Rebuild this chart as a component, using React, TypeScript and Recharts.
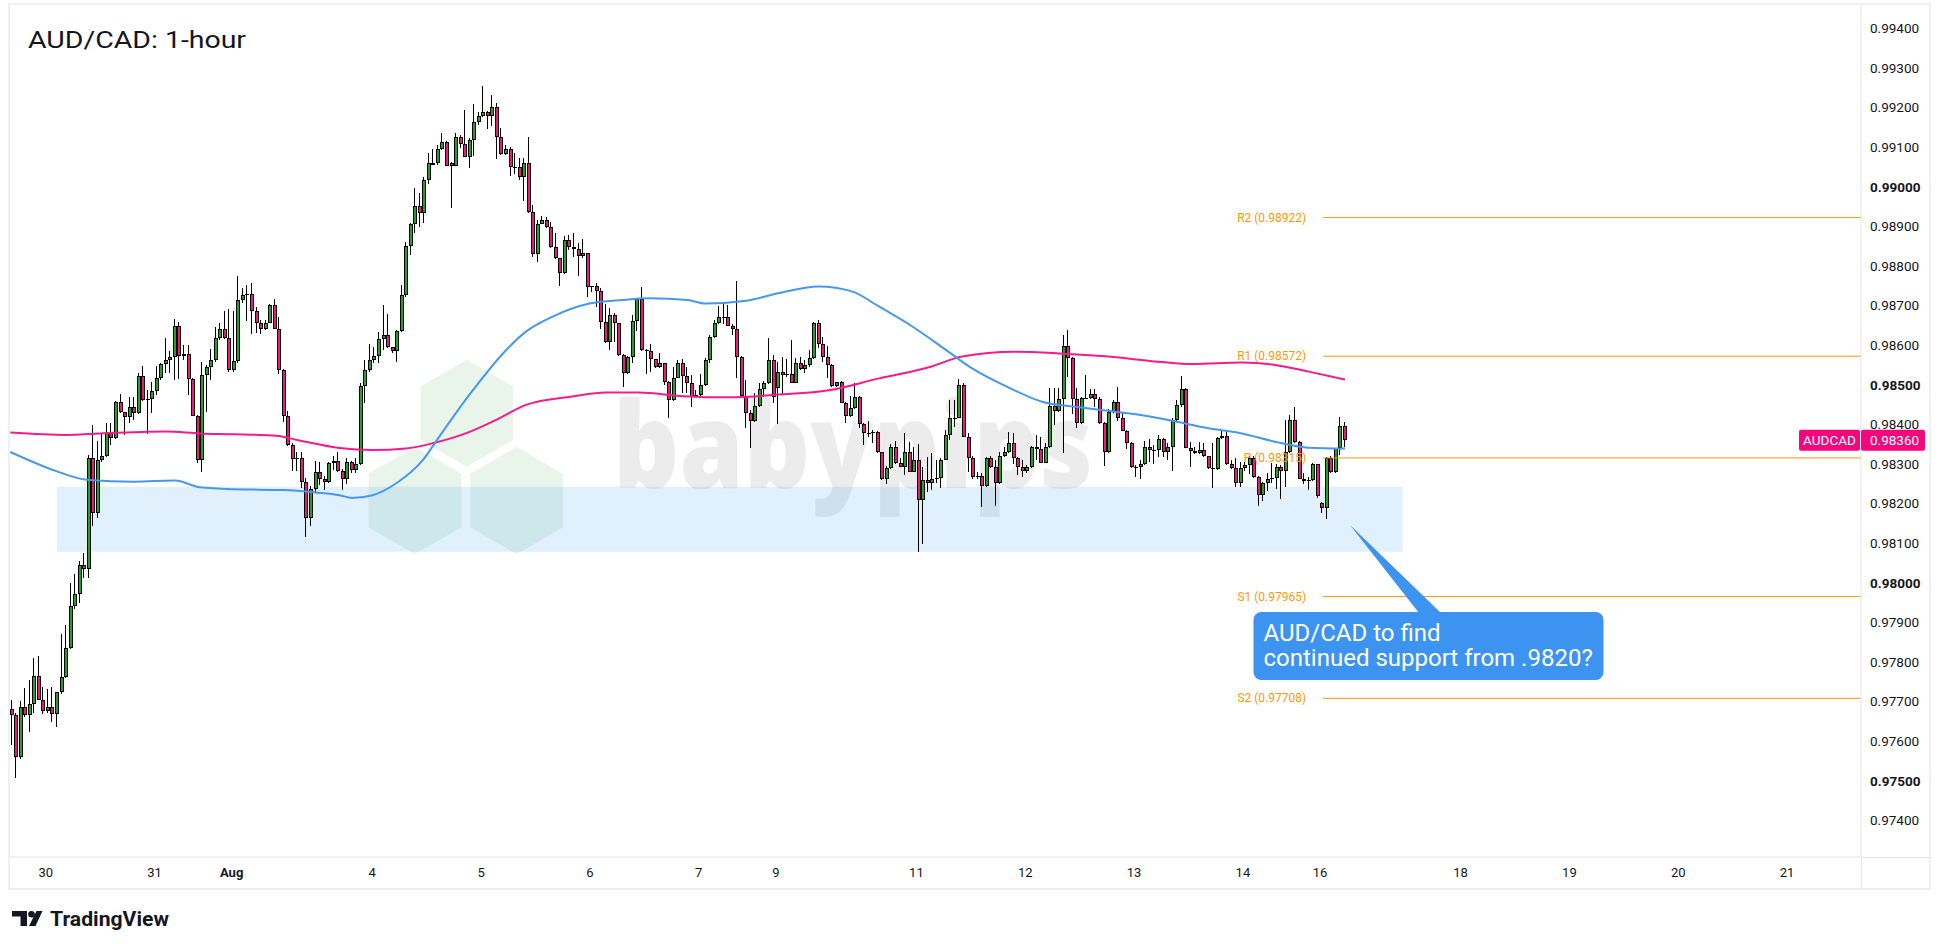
import React from "react";
import {
  ComposedChart,
  Bar,
  Line,
  XAxis,
  YAxis,
  ReferenceLine,
  ReferenceArea,
  ReferenceDot
} from "recharts";

const FONT = "Roboto, 'Noto Sans', Arial, sans-serif";
const INK = "#131722";
const GRID = "#e0e3eb";
const UP = "#22a322";
const DOWN = "#eb1a7d";
const BLUE = "#4598f0";
const PINK = "#f61b8b";
const ORANGE = "#ff9800";
const CALLOUT = "#3d93f0";

// hourly candles, prices in points (1e-5): [open, high, low, close]
const JUL30_AUG1 = [
  [97680,97704,97590,97666],[97666,97670,97506,97561],[97561,97700,97555,97685],[97685,97733,97660,97666],[97666,97754,97624,97693],
  [97693,97811,97670,97765],[97765,97815,97703,97705],[97705,97737,97668,97676],[97676,97731,97670,97685],[97685,97737,97647,97668],
  [97668,97725,97635,97723],[97723,97870,97720,97763],[97763,97893,97760,97836],[97836,97999,97833,97940],[97940,98022,97934,97971],
  [97971,98055,97948,98045],[98045,98074,98011,98035],[98035,98322,98011,98316],[98316,98397,98142,98175],[98175,98359,98163,98310],
  [98310,98377,98306,98321],[98321,98404,98318,98377],[98377,98404,98348,98366],[98366,98458,98364,98456],[98456,98476,98428,98430],
  [98430,98432,98372,98418],[98418,98468,98403,98443],[98443,98468,98411,98428],[98428,98529,98426,98522],[98522,98546,98460,98462],
  [98462,98487,98376,98463],[98463,98508,98428,98485],[98485,98546,98473,98516],[98516,98555,98512,98553],[98553,98617,98529,98563],
  [98563,98584,98529,98569],[98569,98665,98512,98647],[98647,98658,98514,98573],[98573,98601,98563,98578],[98578,98601,98473,98515],
  [98515,98517,98420,98422],[98422,98424,98303,98310],[98310,98558,98279,98525],[98525,98550,98432,98544],[98544,98590,98512,98563],
  [98563,98645,98558,98617],[98617,98655,98613,98641],[98641,98685,98615,98617],[98617,98691,98533,98536],[98536,98685,98533,98559],
  [98559,98775,98555,98714],[98714,98744,98706,98727],[98727,98752,98660,98729],[98729,98758,98627,98687],[98687,98696,98630,98657],
  [98657,98664,98627,98641],[98641,98664,98638,98657],[98657,98704,98655,98702],[98702,98717,98640,98641],[98641,98670,98526,98537],
  [98537,98539,98405,98420],[98420,98434,98346,98348],[98348,98352,98281,98313],[98313,98331,98281,98316],[98316,98331,98238,98254],
  [98254,98264,98116,98163],[98163,98243,98143,98237],[98237,98308,98230,98279],[98279,98306,98247,98262],[98262,98270,98234,98254],
  [98254,98305,98251,98303],[98303,98321,98285,98308],[98308,98331,98279,98281],[98281,98288,98234,98261],[98261,98314,98249,98305],
  [98305,98308,98276,98284],[98284,98314,98276,98299],[98299,98505,98297,98496],[98496,98562,98454,98537],[98537,98604,98533,98562]
];

const AUG4_AUG8 = [
  [98562,98596,98555,98572],[98572,98634,98554,98615],[98615,98701,98587,98625],[98625,98678,98592,98594],[98594,98596,98581,98586],
  [98586,98638,98558,98635],[98635,98752,98633,98726],[98726,98861,98722,98850],[98850,98908,98827,98906],[98906,98996,98882,98950],
  [98950,98985,98899,98933],[98933,99025,98909,99017],[99017,99086,99008,99061],[99056,99095,99055,99061],[99061,99105,99056,99095],
  [99095,99136,99093,99113],[99113,99115,99051,99053],[99061,99063,98945,99053],[99053,99136,99051,99125],[99125,99131,99097,99109],
  [99109,99194,99074,99076],[99076,99122,99046,99118],[99118,99208,99077,99164],[99164,99189,99156,99178],[99178,99255,99177,99188],
  [99188,99190,99145,99178],[99178,99232,99153,99200],[99200,99211,99069,99126],[99126,99147,99080,99083],[99083,99105,99080,99095],
  [99095,99101,99027,99049],[99049,99084,99032,99050],[99050,99073,99017,99024],[99024,99072,98965,99061],[99061,99125,98933,98935],
  [98935,98954,98823,98829],[98829,98916,98811,98907],[98907,98926,98905,98917],[98917,98924,98895,98897],[98897,98912,98846,98848],
  [98848,98884,98817,98819],[98819,98821,98750,98781],[98781,98875,98779,98865],[98865,98878,98840,98848],[98848,98882,98823,98842],
  [98842,98857,98775,98826],[98826,98867,98819,98832],[98832,98833,98722,98746],[98746,98749,98735,98748],[98748,98756,98695,98737],
  [98737,98743,98640,98659],[98659,98705,98606,98607],[98607,98693,98587,98677],[98677,98680,98608,98655],[98655,98657,98572,98576],
  [98576,98578,98493,98530],[98530,98572,98528,98571],[98571,98676,98555,98661],[98661,98720,98636,98717],[98717,98747,98586,98587],
  [98587,98589,98527,98586],[98586,98603,98533,98564],[98564,98566,98541,98545],[98545,98581,98543,98554],[98554,98556,98499,98507],
  [98507,98509,98417,98461],[98461,98544,98459,98518],[98518,98562,98516,98554],[98554,98564,98480,98523],[98523,98545,98480,98505],
  [98505,98525,98443,98470],[98470,98487,98469,98474],[98474,98526,98468,98498],[98498,98567,98497,98562],[98562,98626,98556,98620],
  [98620,98663,98617,98655],[98655,98699,98653,98672],[98672,98705,98652,98671],[98671,98701,98647,98649],[98649,98652,98625,98641],
  [98641,98762,98516,98571],[98571,98572,98470,98471],[98471,98512,98391,98428],[98428,98436,98341,98409],[98409,98478,98407,98447],
  [98447,98503,98444,98488],[98488,98509,98470,98503],[98503,98617,98502,98562],[98562,98575,98455,98468],[98491,98558,98401,98531],
  [98531,98571,98474,98524],[98524,98564,98520,98526],[98526,98614,98503,98505],[98505,98567,98503,98556],[98556,98571,98537,98540],
  [98540,98562,98529,98550],[98550,98588,98545,98567],[98567,98659,98565,98657],[98657,98663,98592,98603],[98603,98620,98558,98571],
  [98571,98598,98516,98550],[98550,98551,98495,98497],[98497,98508,98493,98506],[98506,98510,98454,98455],[98455,98457,98402,98421],
  [98421,98471,98418,98440],[98440,98503,98438,98470],[98470,98472,98390,98400],[98400,98402,98348,98377],[98377,98409,98367,98378],
  [98378,98385,98352,98380],[98380,98383,98327,98329],[98329,98331,98259,98261],[98261,98295,98249,98289],[98289,98349,98286,98342],
  [98342,98358,98300,98301],[98301,98314,98291,98293],[98293,98379,98272,98331],[98331,98356,98279,98280],[98280,98343,98279,98311]
];

const AUG11_AUG15 = [
  [98311,98349,98077,98209],[98209,98293,98097,98259],[98259,98318,98230,98251],[98251,98327,98234,98263],[98263,98311,98251,98264],
  [98264,98316,98238,98311],[98311,98386,98310,98373],[98373,98461,98360,98415],[98415,98461,98394,98417],[98417,98514,98415,98499],
  [98499,98505,98367,98369],[98369,98377,98280,98314],[98314,98320,98263,98266],[98266,98280,98263,98269],[98269,98276,98190,98245],
  [98245,98318,98242,98316],[98316,98320,98289,98291],[98291,98310,98194,98251],[98251,98331,98249,98321],[98321,98343,98318,98329],
  [98329,98381,98327,98353],[98353,98377,98300,98314],[98314,98318,98272,98293],[98293,98311,98266,98283],[98283,98297,98276,98293],
  [98293,98345,98289,98342],[98342,98373,98310,98337],[98337,98369,98301,98303],[98303,98352,98301,98342],[98342,98491,98339,98446],
  [98446,98492,98398,98434],[98434,98491,98432,98463],[98463,98625,98327,98598],[98598,98638,98519,98567],[98567,98571,98425,98465],
  [98465,98491,98391,98402],[98402,98470,98401,98467],[98467,98524,98463,98467],[98467,98488,98463,98476],[98476,98488,98444,98465],
  [98465,98470,98400,98402],[98402,98405,98295,98331],[98331,98438,98328,98430],[98430,98461,98429,98457],[98457,98493,98409,98415],
  [98415,98432,98383,98384],[98384,98386,98337,98354],[98354,98356,98289,98293],[98293,98297,98266,98292],[98292,98311,98261,98300],
  [98300,98359,98297,98342],[98342,98364,98304,98335],[98335,98348,98300,98334],[98334,98373,98318,98363],[98363,98366,98318,98329],
  [98329,98352,98311,98343],[98343,98415,98283,98411],[98411,98461,98409,98449],[98449,98522,98444,98488],[98488,98491,98339,98341],
  [98341,98356,98291,98333],[98333,98343,98325,98327],[98327,98356,98325,98335],[98335,98352,98318,98320],[98320,98321,98287,98289],
  [98289,98352,98238,98287],[98287,98367,98285,98365],[98365,98384,98363,98370],[98370,98384,98297,98299],[98299,98310,98288,98290],
  [98290,98314,98241,98253],[98253,98305,98241,98289],[98289,98305,98283,98297],[98297,98320,98274,98316],[98316,98320,98264,98266],
  [98266,98269,98194,98221],[98221,98255,98206,98251],[98251,98276,98232,98263],[98263,98301,98251,98264],[98264,98300,98236,98293],
  [98293,98297,98211,98283],[98283,98412,98242,98331],[98331,98423,98328,98412],[98412,98444,98354,98356],[98356,98358,98261,98263],
  [98263,98276,98249,98257],[98257,98267,98234,98260],[98260,98301,98258,98299],[98299,98300,98215,98219],[98200,98204,98177,98188],
  [98188,98318,98162,98316],[98316,98320,98277,98279],[98279,98341,98276,98339],[98339,98418,98322,98395],[98395,98407,98343,98360]
];

// moving averages: bar position -> value (points)
const BLUE_MA_X = [-0.3, 10, 16.5, 27, 36, 41.5, 49, 60, 67, 72.3, 75, 79.6, 84.8, 90.7, 94.3, 101.7, 109, 113.4, 119.3, 127.4, 134.7, 140.6, 149, 153, 162, 169, 178, 185.4, 191.3, 198.6, 206, 211.8, 220, 227.2, 234.6, 241.9, 249.3, 256.6, 263.9, 271.3, 278.6, 286, 294];
const BLUE_MA = [98330, 98281, 98260, 98255, 98258, 98241, 98236, 98234, 98228, 98221, 98214, 98221, 98251, 98310, 98369, 98486, 98587, 98634, 98672, 98705, 98714, 98718, 98714, 98705, 98712, 98731, 98748, 98735, 98697, 98647, 98588, 98541, 98492, 98457, 98444, 98434, 98423, 98407, 98390, 98377, 98356, 98341, 98339];
const PINK_MA_X = [-0.3, 12, 19.4, 34, 41.5, 48.8, 58.4, 63.5, 72.3, 79.6, 86.9, 92.8, 100.1, 107.5, 113.4, 123.6, 131, 138.3, 148, 158.2, 169.2, 180.2, 191.3, 202.3, 209.6, 221, 230.9, 241.9, 252.9, 260.3, 271.3, 278.6, 286, 294];
const PINK_MA = [98379, 98373, 98377, 98382, 98377, 98375, 98371, 98359, 98340, 98335, 98339, 98352, 98377, 98415, 98449, 98470, 98480, 98480, 98471, 98468, 98475, 98486, 98516, 98544, 98571, 98583, 98579, 98571, 98558, 98552, 98556, 98550, 98533, 98513];

const PIVOT_NAMES = ["R2", "R1", "P", "S1", "S2"];
const PIVOT_VALUES = [0.98922, 0.98572, 0.98315, 0.97965, 0.97708];
const PIVOT_FROM = 289.2;

const ZONE_LOW = 0.98078;
const ZONE_HIGH = 0.98242;
const ZONE_FROM = 10;
const ZONE_TO = 306.7;

const LAST_PRICE = 0.9836;

const DAY_TICKS = [7.5, 31.5, 48.5, 79.5, 103.5, 127.5, 151.5, 168.5, 199.5, 223.5, 247.5, 271.5, 288.5, 319.5, 343.5, 367.5, 391.5];
const DAY_LABELS = ["30", "31", "Aug", "4", "5", "6", "7", "9", "11", "12", "13", "14", "16", "18", "19", "20", "21"];

const PRICE_TICKS = [0.974, 0.975, 0.976, 0.977, 0.978, 0.979, 0.98, 0.981, 0.982, 0.983, 0.984, 0.985, 0.986, 0.987, 0.988, 0.989, 0.99, 0.991, 0.992, 0.993, 0.994];

const X_DOMAIN = [-0.375, 407.8];
const Y_DOMAIN = [0.973073, 0.994588];

const candles = [...JUL30_AUG1, ...AUG4_AUG8, ...AUG11_AUG15].map(([o, h, l, c], i) => ({
  i,
  o: o / 1e5,
  h: h / 1e5,
  l: l / 1e5,
  c: c / 1e5
}));
const blueRows = BLUE_MA_X.map((i, k) => ({ i, v: BLUE_MA[k] / 1e5 }));
const pinkRows = PINK_MA_X.map((i, k) => ({ i, v: PINK_MA[k] / 1e5 }));

function Candle(props: any) {
  const { x, y, width, height, payload } = props;
  if (!payload || !Number.isFinite(x) || !Number.isFinite(y)) return <g />;
  const top0 = height < 0 ? y + height : y;
  const span0 = Math.abs(height);
  const { o, h, l, c } = payload;
  const yOf = (v: number) => (h > l ? top0 + ((h - v) / (h - l)) * span0 : top0);
  const r = Math.round(x + width / 2);
  let bt = Math.round(yOf(Math.max(o, c)));
  let bb = Math.round(yOf(Math.min(o, c)));
  if (bb - bt < 1) bb = bt + 1;
  const wt = Math.round(top0);
  const wb = Math.max(Math.round(top0 + span0), wt + 1);
  return (
    <g>
      <rect x={r - 1} y={wt} width={1} height={wb - wt} fill="#000" />
      <rect x={r - 2} y={bt} width={4} height={bb - bt} fill="#000" />
      {bb - bt > 2 && (
        <rect x={r - 1} y={bt + 1} width={2} height={bb - bt - 2} fill={c >= o ? UP : DOWN} />
      )}
    </g>
  );
}

function DayTick(props: any) {
  const { x, y, payload } = props;
  const k = DAY_TICKS.indexOf(payload.value);
  const label = DAY_LABELS[k];
  return (
    <text
      x={x}
      y={y + 15.5}
      textAnchor="middle"
      dominantBaseline="central"
      fontSize={13}
      fill={INK}
      fontFamily={FONT}
      fontWeight={label === "Aug" ? 700 : 400}
    >
      {label}
    </text>
  );
}

function PriceTick(props: any) {
  const { x, y, payload } = props;
  const v = payload.value as number;
  const bold = Math.round(v * 1e5) % 500 === 0;
  return (
    <text x={x + 9} y={y} textAnchor="start" dominantBaseline="central" fontSize={13.5} fill={INK} fontFamily={FONT} fontWeight={bold ? 700 : 400}>
      {v.toFixed(5)}
    </text>
  );
}

const pivotLabel = (text: string) => (props: any) => {
  const vb = props.viewBox || {};
  return (
    <text x={vb.x - 17} y={vb.y} textAnchor="end" dominantBaseline="central" fontSize={12} fill={ORANGE} fontFamily={FONT}>
      {text}
    </text>
  );
};

function LastPriceTag(props: any) {
  const { cx, cy } = props;
  if (!Number.isFinite(cx) || !Number.isFinite(cy)) return <g />;
  return (
    <g>
      <rect x={cx - 62} y={cy - 10.5} width={61} height={21} rx={2} fill="#f2077d" />
      <text x={cx - 31.5} y={cy} textAnchor="middle" dominantBaseline="central" fontSize={13.5} fill="#fff" fontFamily={FONT}>
        AUDCAD
      </text>
      <rect x={cx} y={cy - 10.5} width={64} height={21} rx={2} fill="#f2077d" />
      <text x={cx + 9} y={cy} textAnchor="start" dominantBaseline="central" fontSize={13.5} fill="#fff" fontFamily={FONT}>
        {LAST_PRICE.toFixed(5)}
      </text>
    </g>
  );
}

function hexPoints(cx: number, cy: number, r: number) {
  const pts: string[] = [];
  for (let k = 0; k < 6; k++) {
    const a = (Math.PI / 3) * k - Math.PI / 2;
    pts.push(`${cx + r * Math.cos(a)},${cy + r * Math.sin(a)}`);
  }
  return pts.join(" ");
}

export default function App() {
  return (
    <div style={{ position: "absolute", left: 0, top: 0, width: 1940, height: 949, background: "#fff", overflow: "hidden" }}>
      <div
        style={{
          position: "absolute",
          left: 8,
          top: 3,
          width: 1923,
          height: 887,
          border: "2px solid #eef0f3",
          boxSizing: "border-box"
        }}
      />
      {/* watermark, under the chart */}
      <svg width={1940} height={949} style={{ position: "absolute", left: 0, top: 0 }}>
        <g fill="rgba(76,175,80,0.12)">
          <polygon points={hexPoints(466.7, 413.3, 53.5)} />
          <polygon points={hexPoints(415, 500.5, 53.5)} />
          <polygon points={hexPoints(516.7, 500.5, 53.5)} />
        </g>
        <text
          x={613}
          y={488}
          fontSize={118}
          fontWeight={800}
          fontFamily="'Open Sans', Lato, sans-serif"
          fill="rgba(0,0,0,0.075)"
          textLength={480}
          lengthAdjust="spacingAndGlyphs"
        >
          babypips
        </text>
      </svg>
      <div style={{ position: "absolute", left: 10, top: 5 }}>
        <ComposedChart width={1919} height={883} data={candles} margin={{ top: 0, right: 0, bottom: 0, left: 0 }}>
          <XAxis
            dataKey="i"
            type="number"
            domain={X_DOMAIN}
            allowDataOverflow
            ticks={DAY_TICKS}
            interval={0}
            tick={<DayTick />}
            tickLine={false}
            tickSize={0}
            tickMargin={0}
            axisLine={{ stroke: GRID }}
            height={31}
          />
          <YAxis
            orientation="right"
            type="number"
            domain={Y_DOMAIN}
            allowDataOverflow
            ticks={PRICE_TICKS}
            interval={0}
            tick={<PriceTick />}
            tickLine={false}
            tickSize={0}
            tickMargin={0}
            axisLine={{ stroke: GRID }}
            width={68}
          />
          <ReferenceArea x1={ZONE_FROM} x2={ZONE_TO} y1={ZONE_LOW} y2={ZONE_HIGH} fill="#2196f3" fillOpacity={0.14} stroke="none" />
          {PIVOT_VALUES.map((v, k) => (
            <ReferenceLine
              key={PIVOT_NAMES[k]}
              segment={[{ x: PIVOT_FROM, y: v }, { x: X_DOMAIN[1], y: v }]}
              stroke={ORANGE}
              strokeWidth={1}
              label={pivotLabel(`${PIVOT_NAMES[k]} (${v.toFixed(5)})`)}
            />
          ))}
          <Line data={pinkRows} dataKey="v" type="monotone" stroke={PINK} strokeWidth={2} dot={false} activeDot={false} isAnimationActive={false} />
          <Line data={blueRows} dataKey="v" type="monotone" stroke={BLUE} strokeWidth={2} dot={false} activeDot={false} isAnimationActive={false} />
          <Bar dataKey={(d: any) => [d.l, d.h]} barSize={4} shape={(p: any) => <Candle {...p} />} isAnimationActive={false} />
          <ReferenceDot x={X_DOMAIN[1]} y={LAST_PRICE} r={0} ifOverflow="visible" shape={(p: any) => <LastPriceTag {...p} />} />
        </ComposedChart>
      </div>
      {/* annotations above the chart */}
      <svg width={1940} height={949} style={{ position: "absolute", left: 0, top: 0, pointerEvents: "none" }}>
        <line x1={1861} x2={1929} y1={857.5} y2={857.5} stroke={GRID} />
        <line x1={1861.5} x2={1861.5} y1={857} y2={888} stroke={GRID} />
        <text x={28} y={48} fontSize={24} fill={INK} fontFamily={FONT} textLength={218} lengthAdjust="spacingAndGlyphs">
          AUD/CAD: 1-hour
        </text>
        <polygon points="1350,525 1419,613 1441,613" fill={CALLOUT} />
        <rect x={1253.5} y={612} width={350} height={68} rx={8} fill={CALLOUT} />
        <text x={1263.5} y={641} fontSize={24} fill="#fff" fontFamily={FONT}>
          AUD/CAD to find
        </text>
        <text x={1263.5} y={666} fontSize={24} fill="#fff" fontFamily={FONT}>
          continued support from .9820?
        </text>
        <g fill={INK}>
          <rect x={12} y={911} width={15} height={5.5} />
          <rect x={20.5} y={911} width={6.5} height={15} />
          <circle cx={31.5} cy={914.3} r={3.3} />
          <polygon points="29,926 36.5,911 42.5,911 35.5,926" />
        </g>
        <text x={50} y={926} fontSize={21} fontWeight={700} fill={INK} fontFamily={FONT} textLength={119} lengthAdjust="spacingAndGlyphs">
          TradingView
        </text>
      </svg>
    </div>
  );
}
